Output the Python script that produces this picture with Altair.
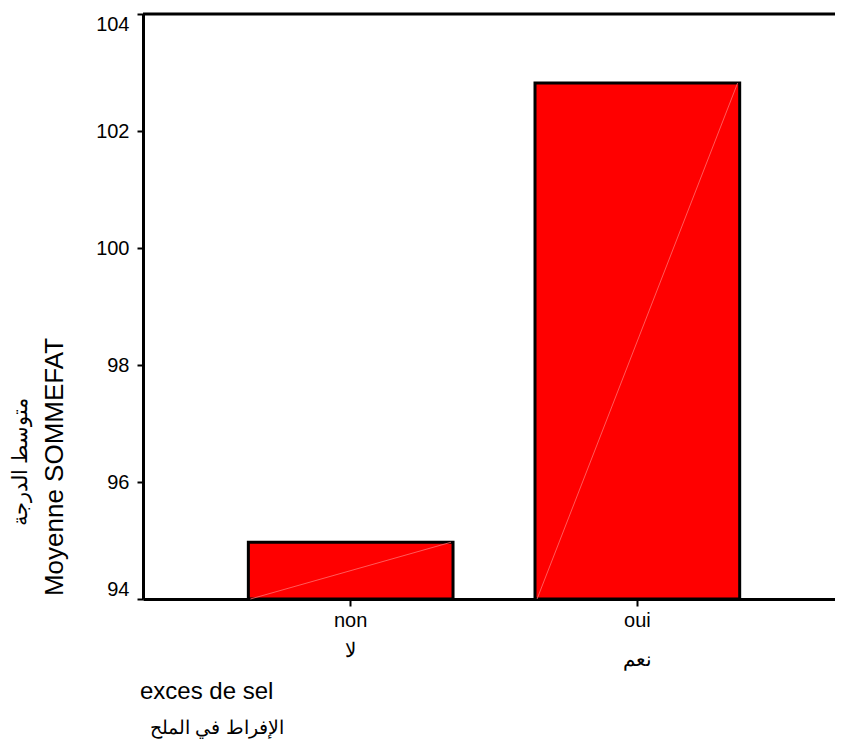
import altair as alt
import pandas as pd

categories = ["non", "oui"]
categories_ar = ["لا", "نعم"]
means = [94.97, 102.82]
y_ticks = [94, 96, 98, 100, 102, 104]

W, H = 692, 585
FONT = "Liberation Sans"

df = pd.DataFrame({"cat": categories, "ar": categories_ar, "mean": means, "base": [94] * len(means)})

xscale = alt.Scale(domain=categories, paddingInner=0.286, paddingOuter=0.35, align=0.525)
yscale = alt.Scale(domain=[94, 104], nice=False, zero=False)

base = alt.Chart(df)

bars = base.mark_bar(color="#ff0000", stroke="black", strokeWidth=3).encode(
    x=alt.X("cat:N", scale=xscale, sort=categories,
            axis=alt.Axis(title=None, labelAngle=0, labelFont=FONT, labelFontSize=20,
                          labelColor="black", domainColor="black", domainWidth=3,
                          tickColor="black", tickWidth=2, tickSize=7, labelPadding=4)),
    y=alt.Y("mean:Q", scale=yscale,
            axis=alt.Axis(title=None, values=y_ticks, format="d", grid=False, labelFont=FONT,
                          labelFontSize=20, labelColor="black", domainColor="black",
                          domainWidth=3, tickColor="black", tickWidth=2, tickSize=6,
                          labelPadding=8, labelFlush=True)),
    y2="base:Q",
)

diag = base.mark_rule(color="#ff7070", strokeWidth=1, opacity=0.8).encode(
    x=alt.X("cat:N", scale=xscale, sort=categories, bandPosition=0.01),
    x2=alt.X2("cat:N", bandPosition=0.99),
    y="base:Q",
    y2="mean:Q",
)

top_line = alt.Chart(pd.DataFrame({"v": [104]})).mark_rule(color="black", strokeWidth=3).encode(
    y=alt.Y("v:Q", scale=yscale), x=alt.value(0), x2=alt.value(W)
)

ar_label_non = base.transform_filter(alt.datum.cat == categories[0]).mark_text(
    font=FONT, fontSize=20, color="black", baseline="alphabetic"
).encode(
    x=alt.X("cat:N", scale=xscale, sort=categories),
    y=alt.value(H + 58),
    text="ar:N",
)

ar_label_oui = base.transform_filter(alt.datum.cat == categories[1]).mark_text(
    font=FONT, fontSize=20, color="black", baseline="alphabetic"
).encode(
    x=alt.X("cat:N", scale=xscale, sort=categories),
    y=alt.value(H + 67),
    text="ar:N",
)

ytitle_fr = alt.Chart(pd.DataFrame({"t": ["Moyenne SOMMEFAT"]})).mark_text(
    font=FONT, fontSize=26, angle=270, color="black", baseline="middle", align="center"
).encode(x=alt.value(-88), y=alt.value(453), text="t:N")

ytitle_ar = alt.Chart(pd.DataFrame({"t": ["متوسط الدرجة"]})).mark_text(
    font=FONT, fontSize=21, angle=270, color="black", baseline="middle", align="center"
).encode(x=alt.value(-122), y=alt.value(448), text="t:N")

xtitle_fr = alt.Chart(pd.DataFrame({"t": ["exces de sel"]})).mark_text(
    font=FONT, fontSize=24, color="black", baseline="middle", align="left"
).encode(x=alt.value(-3), y=alt.value(H + 93), text="t:N")

xtitle_ar = alt.Chart(pd.DataFrame({"t": ["الإفراط في الملح"]})).mark_text(
    font=FONT, fontSize=19, color="black", baseline="middle", align="left"
).encode(x=alt.value(7), y=alt.value(H + 129), text="t:N")

chart = alt.layer(bars, diag, top_line, ar_label_non, ar_label_oui, ytitle_fr, ytitle_ar,
                  xtitle_fr, xtitle_ar).properties(
    width=W, height=H,
    autosize=alt.AutoSizeParams(type="none"),
    padding={"left": 135, "top": 6, "right": 0, "bottom": 142},
).configure_view(stroke=None).configure(background="white")

chart.save("out.html", embed_options={"renderer": "svg", "actions": False})
